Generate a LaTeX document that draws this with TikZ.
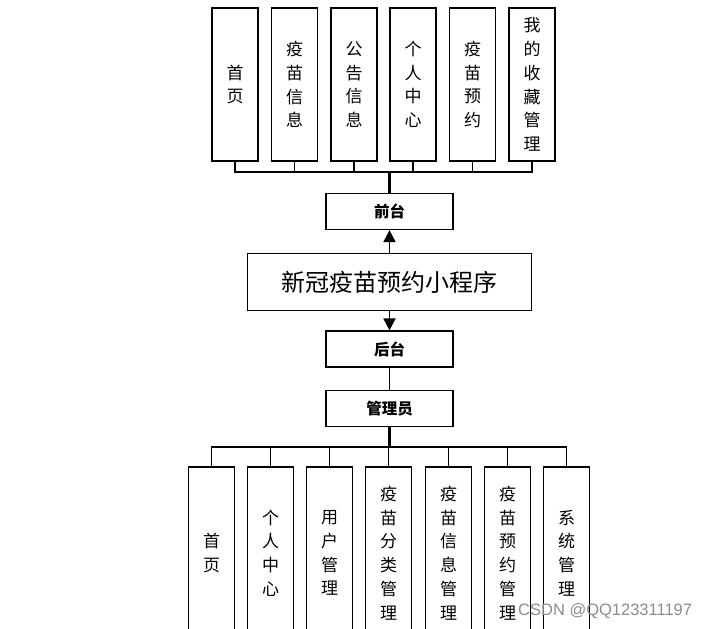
\documentclass[tikz,border=0pt]{standalone}
\usepackage{fontspec}
\newfontfamily\cjk{Noto Sans CJK SC}
\newfontfamily\wm{Liberation Sans}
\usetikzlibrary{arrows.meta}
\tikzset{
  vbox/.style={draw=black, line width=1.2pt, fill=white, minimum width=46pt, inner sep=0pt, align=center, font=\cjk\fontsize{17}{23.7}\selectfont},
  topbox/.style={vbox, minimum height=153pt},
  botbox/.style={vbox, minimum height=172pt},
  hbox/.style={draw=black, line width=1.2pt, fill=white, minimum width=127pt, minimum height=36pt, inner sep=0pt, font=\cjk\bfseries\fontsize{15.5}{18}\selectfont},
  titlebox/.style={draw=black, line width=1.2pt, fill=white, minimum width=284pt, minimum height=57pt, inner sep=0pt, font=\cjk\fontsize{24}{27}\selectfont},
  bus/.style={line width=1.5pt},
  trunk/.style={line width=2.4pt},
  tip/.style={-{Triangle[length=12pt,width=12pt]}, line width=1.8pt}
}
\begin{document}
\begin{tikzpicture}[x=1pt,y=-1pt]
\useasboundingbox (0,0) rectangle (705,629);
% top boxes
\node[topbox] (t1) at (235,84.5) {首\\页};
\node[topbox] (t2) at (294.5,84.5) {疫\\苗\\信\\息};
\node[topbox] (t3) at (354,84.5) {公\\告\\信\\息};
\node[topbox] (t4) at (413,84.5) {个\\人\\中\\心};
\node[topbox] (t5) at (472.5,84.5) {疫\\苗\\预\\约};
\node[topbox] (t6) at (532,84.5) {我\\的\\收\\藏\\管\\理};
% middle
\node[hbox] (qt) at (389.5,211.5) {前台};
\node[titlebox] (app) at (389.5,282) {新冠疫苗预约小程序};
\node[hbox] (ht) at (389.5,349) {后台};
\node[hbox] (gly) at (389.5,408.5) {管理员};
% bottom boxes
\node[botbox] (b1) at (211.5,553) {首\\页};
\node[botbox] (b2) at (270.5,553) {个\\人\\中\\心};
\node[botbox] (b3) at (329.5,553) {用\\户\\管\\理};
\node[botbox] (b4) at (388.5,553) {疫\\苗\\分\\类\\管\\理};
\node[botbox] (b5) at (448.5,553) {疫\\苗\\信\\息\\管\\理};
\node[botbox] (b6) at (507.5,553) {疫\\苗\\预\\约\\管\\理};
\node[botbox] (b7) at (566.5,553) {系\\统\\管\\理};
% top bus
\coordinate (bt) at (389.5,172);
\draw[bus] (t1.south) -- (t1.south |- bt) -- (t6.south |- bt) -- (t6.south);
\foreach \n in {t2,t3,t4,t5} \draw[bus] (\n.south) -- (\n.south |- bt);
\draw[trunk] (bt) -- (qt.north);
% arrows
\draw[tip] (app.north) -- (qt.south);
\draw[tip] (app.south) -- (ht.north);
\draw[bus] (ht.south) -- (gly.north);
% bottom bus
\coordinate (bb) at (389.5,447);
\draw[trunk] (gly.south) -- (bb);
\draw[bus] (b1.north) -- (b1.north |- bb) -- (b7.north |- bb) -- (b7.north);
\foreach \n in {b2,b3,b4,b5,b6} \draw[bus] (\n.north) -- (\n.north |- bb);
% watermark
\node[anchor=west, inner sep=0pt, text=black!45, font=\wm\fontsize{16.5}{19}\selectfont] (wmk) at (518,611) {CSDN @QQ123311197};
\end{tikzpicture}
\end{document}
